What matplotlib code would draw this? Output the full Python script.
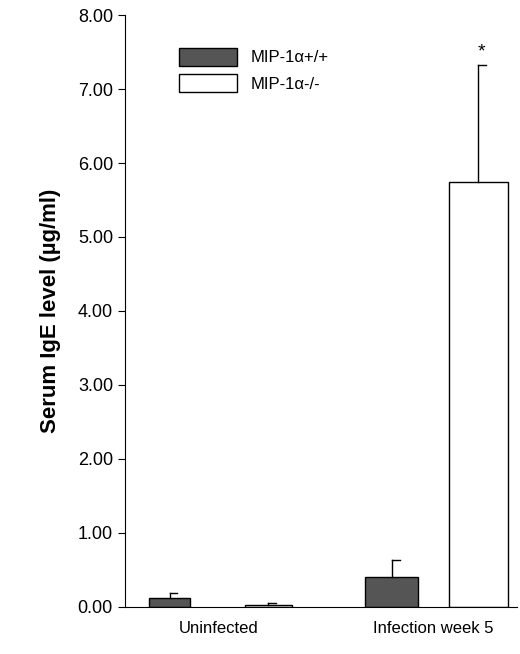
import matplotlib
matplotlib.use("Agg")
import matplotlib.pyplot as plt
from matplotlib.patches import Patch

plt.rcParams['font.family'] = ['Liberation Sans', 'DejaVu Sans']

groups = ["Uninfected", "Infection week 5"]
wt_vals = [0.12, 0.40]
wt_err = [0.07, 0.24]
ko_vals = [0.02, 5.75]
ko_err = [0.03, 1.58]

fig = plt.figure(figsize=(5.2, 6.54), dpi=100)
ax = fig.add_axes([0.24, 0.072, 0.755, 0.905])
wt_x = [11.4, 68.0]
ko_x = [36.5, 90.0]
wt_w = [10.5, 13.4]
ko_w = [12.0, 15.0]
ax.bar(wt_x, wt_vals, wt_w, color="#555555", edgecolor="black", linewidth=1)
for x, v, e in zip(wt_x, wt_vals, wt_err):
    ax.plot([x, x], [v, v + e], color="black", lw=1)
    ax.plot([x, x + 2.0], [v + e, v + e], color="black", lw=1)
ax.bar(ko_x, ko_vals, ko_w, color="white", edgecolor="black", linewidth=1)
for x, v, e in zip(ko_x, ko_vals, ko_err):
    ax.plot([x, x], [v, v + e], color="black", lw=1)
    ax.plot([x, x + 2.0], [v + e, v + e], color="black", lw=1)
ax.text(ko_x[1] + 0.8, ko_vals[1] + ko_err[1] + 0.05, "*", ha="center", va="bottom", fontsize=14)

ax.set_xlim(0, 100)
ax.set_ylim(0, 8)
ax.set_yticks([0, 1, 2, 3, 4, 5, 6, 7, 8])
ax.set_yticklabels([f"{v:.2f}" for v in range(9)], fontsize=13)
ax.set_xticks([24.0, 78.5])
ax.set_xticklabels(groups, fontsize=12)
ax.tick_params(axis="x", length=0, pad=10)
ax.tick_params(axis="y", direction="out", length=5)
for s in ["top", "right"]:
    ax.spines[s].set_visible(False)
ax.set_ylabel("Serum IgE level (\u00b5g/ml)", fontsize=16, fontweight="bold", labelpad=12)
handles = [Patch(facecolor="#555555", edgecolor="black", label="MIP-1\u03b1+/+"),
           Patch(facecolor="white", edgecolor="black", label="MIP-1\u03b1-/-")]
ax.legend(handles=handles, loc="upper left", bbox_to_anchor=(0.1, 0.97), frameon=False,
          fontsize=12, handlelength=3.5, handleheight=1.3)
fig.savefig("out.png", dpi=100)
